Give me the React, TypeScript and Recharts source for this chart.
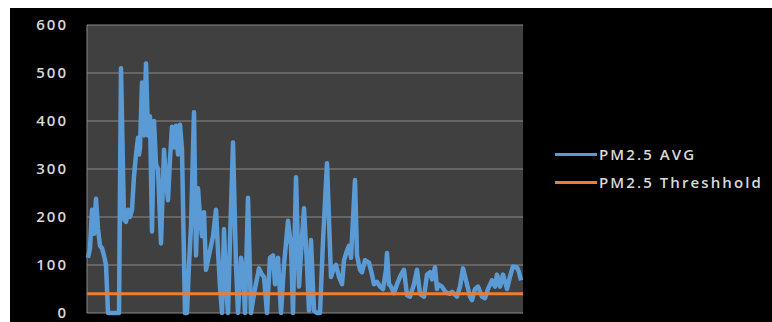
import React from "react";
import { LineChart, Line, XAxis, YAxis, CartesianGrid, Legend } from "recharts";

// x position of each reading (sample index along the period)
const days = [
  1, 3, 5, 6, 7, 9, 11, 13, 15, 17, 19, 21, 24, 27, 30, 32, 34, 37, 39, 41, 43, 45, 47, 49, 51, 52, 53,
  55, 57, 59, 61, 63, 65, 67, 69, 71, 74, 77, 79, 81, 83, 85, 87, 89, 91, 93, 95, 98, 100, 102,
  104, 107, 109, 111, 113, 115, 117, 119, 122, 126, 129, 131, 133, 135, 137, 139, 141, 143, 146,
  149, 151, 154, 156, 158, 161, 164, 167, 172, 175, 177, 180, 183, 186, 188, 191, 194, 197, 201,
  204, 206, 209, 212, 214, 217, 220, 222, 224, 227, 230, 233, 236, 240, 244, 247, 249, 252, 255,
  257, 260, 262, 264, 268, 270, 273, 275, 278, 282, 285, 287, 290, 293, 296, 299, 300, 302, 304,
  307, 310, 314, 317, 320, 323, 327, 330, 333, 337, 340, 343, 345, 348, 350, 351, 355, 358, 360,
  363, 365, 370, 373, 376, 380, 383, 385, 388, 391, 395, 398, 401, 405, 408, 410, 413, 416, 420,
  423, 426, 430, 432, 434, 435,
];

const pm25Avg = [
  115, 135, 215, 175, 165, 238, 175, 140, 135, 120, 100, 0, 0, 0, 0, 0, 510, 195, 190, 215, 200,
  215, 285, 330, 365, 330, 345,
  480, 370, 520, 370, 410, 170, 400, 310, 300, 145, 340, 280, 235, 320, 388, 345, 390, 330, 392,
  340, 0, 0, 100, 180, 418, 120, 260, 200, 160, 210, 90, 120, 160, 215, 130, 55, 0, 175, 60, 0,
  150, 355, 100, 0, 115, 90, 0, 240, 0, 40, 93, 80, 75, 0, 115, 120, 60, 115, 0, 100, 192, 140,
  0, 283, 55, 125, 218, 100, 5, 152, 5, 0, 0, 150, 312, 75, 95, 100, 75, 60, 110, 130, 140, 115,
  277, 120, 90, 85, 110, 105, 80, 60, 65, 55, 50, 90, 125, 60, 55, 41, 60, 80, 90, 37, 34, 60,
  90, 40, 34, 80, 85, 70, 95, 50, 60, 55, 45, 42, 40, 44, 34, 55, 93, 60, 34, 27, 50, 55, 34, 31,
  50, 68, 55, 80, 55, 80, 50, 76, 97, 95, 85, 68,
];

const THRESHOLD = 40;
const yTicks = [0, 100, 200, 300, 400, 500, 600];

const seriesNames = { avg: "PM2.5 AVG", threshold: "PM2.5 Threshhold" };

const data = days.map((d, i) => ({
  day: d,
  avg: pm25Avg[i],
  threshold: THRESHOLD,
}));
// threshold line spans the full axis
data.unshift({ day: 0, avg: null as any, threshold: THRESHOLD });
data.push({ day: 436, avg: null as any, threshold: THRESHOLD });

const FONT = "'Open Sans', sans-serif";

const textStyle = {
  fontFamily: FONT,
  fontSize: 15,
  fontWeight: 600,
  letterSpacing: 2,
  fill: "#d9d9d9",
};

const renderLegend = (props: any) => {
  const { payload } = props;
  return (
    <div>
      {payload.map((p: any) => (
        <div
          key={p.value}
          style={{ display: "flex", alignItems: "center", height: 28 }}
        >
          <span
            style={{
              display: "inline-block",
              width: 42,
              height: 3,
              background: p.color,
            }}
          />
          <span
            style={{
              marginLeft: 2,
              fontFamily: FONT,
              fontSize: 15,
              fontWeight: 600,
              letterSpacing: 2.1,
              color: "#d9d9d9",
              whiteSpace: "nowrap",
            }}
          >
            {p.value}
          </span>
        </div>
      ))}
    </div>
  );
};

export default function App() {
  return (
    <div
      style={{
        position: "absolute",
        left: 10,
        top: 8,
        width: 762,
        height: 314,
        background: "#000000",
      }}
    >
      <LineChart
        width={762}
        height={314}
        data={data}
        margin={{ top: 17, right: 249, bottom: 9, left: 0 }}
      >
        <CartesianGrid
          vertical={false}
          stroke="#8a8a8a"
          strokeWidth={1}
          fill="#404040"
          fillOpacity={1}
        />
        <XAxis dataKey="day" type="number" domain={[0, 436]} hide />
        <YAxis
          domain={[0, 600]}
          ticks={yTicks}
          width={77}
          tickLine={false}
          axisLine={{ stroke: "#8a8a8a" }}
          tickSize={0}
          tickMargin={19}
          tick={textStyle}
          interval={0}
        />
        <Legend
          content={renderLegend}
          layout="vertical"
          align="center"
          verticalAlign="middle"
          wrapperStyle={{ left: 545, top: 132, width: 215 }}
        />
        <Line
          type="linear"
          dataKey="avg"
          name={seriesNames.avg}
          stroke="#5b9bd5"
          strokeWidth={4.5}
          strokeLinejoin="round"
          dot={false}
          isAnimationActive={false}
          connectNulls
        />
        <Line
          type="linear"
          dataKey="threshold"
          name={seriesNames.threshold}
          stroke="#ed7d31"
          strokeWidth={3}
          dot={false}
          isAnimationActive={false}
        />
      </LineChart>
    </div>
  );
}
